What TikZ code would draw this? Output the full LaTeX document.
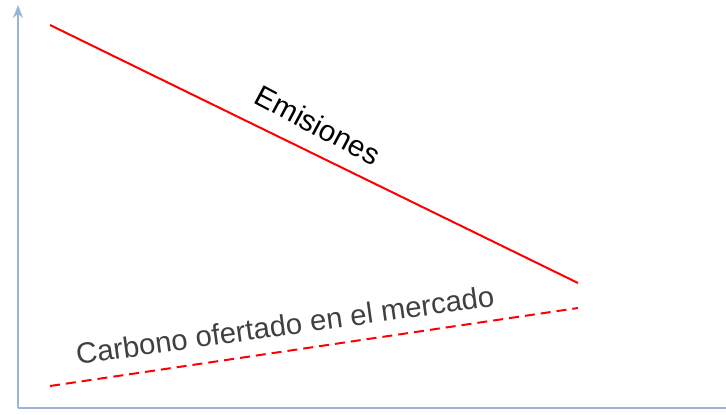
\documentclass[tikz,border=0pt]{standalone}
\usepackage{fontspec}
\setmainfont{Liberation Sans}
\usetikzlibrary{arrows.meta}
\definecolor{axisblue}{HTML}{9AB4DA}
\definecolor{darkgraytext}{HTML}{404040}
\tikzset{
  axisline/.style={draw=axisblue, line width=2pt},
  redline/.style={draw=red, line width=2pt},
  reddash/.style={draw=red, line width=2pt, dash pattern=on 10pt off 6pt},
  lbl/.style={inner sep=0pt, font=\fontsize{29.5}{33}\selectfont}
}
\begin{document}
\begin{tikzpicture}[x=1pt,y=-1pt]
\useasboundingbox (0,0) rectangle (726,415);
\coordinate (O) at (18,408);
\coordinate (Ytop) at (18,5);
\coordinate (Xend) at (726,408);
\draw[axisline, -{Stealth[length=13pt,width=10pt]}] (O) -- (Ytop);
\draw[axisline] (O) -- (Xend);
\coordinate (e1) at (50,25);
\coordinate (e2) at (578,283);
\coordinate (c1) at (50,386);
\coordinate (c2) at (578,308);
\draw[redline] (e1) -- (e2);
\draw[reddash] (c1) -- (c2);
\node[lbl, rotate=-28, text=black] (emis) at (318,125) {Emisiones};
\node[lbl, rotate=8, text=darkgraytext, font=\fontsize{29.3}{33}\selectfont] (carb) at (285,325) {Carbono ofertado en el mercado};
\end{tikzpicture}
\end{document}
